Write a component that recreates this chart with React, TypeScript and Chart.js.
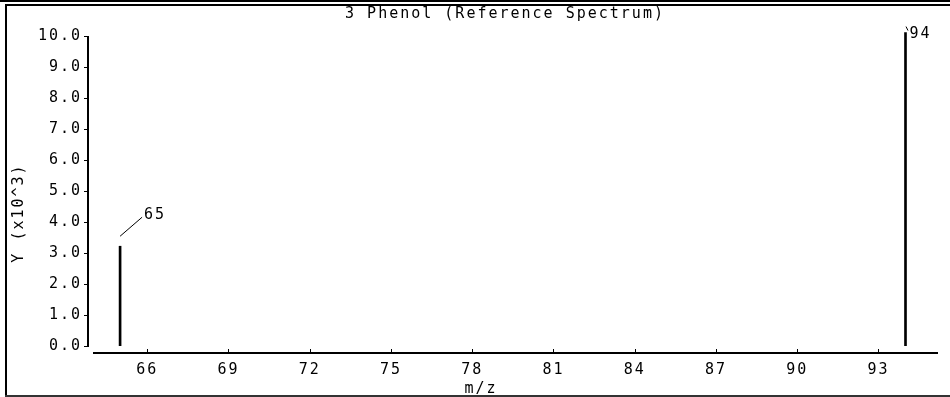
import React, { useEffect, useRef } from "react";
import { Chart, registerables } from "chart.js";

Chart.register(...registerables);

const TITLE = "3 Phenol (Reference Spectrum)";
const X_LABEL = "m/z";
const Y_LABEL = "Y (x10^3)";
const MZ = [65, 94];
const INTENSITY = [3215, 10100];
const PEAK_LABELS = ["65", "94"];
const X_TICKS = [66, 69, 72, 75, 78, 81, 84, 87, 90, 93];
const Y_TICKS = [0, 1, 2, 3, 4, 5, 6, 7, 8, 9, 10];
const X_MIN = 64;
const X_MAX = 95.2;
const Y_MIN = 0;
const Y_MAX = 10.15;

const FONT_FAMILY = "'DejaVu Sans Mono', monospace";
const FONT_SIZE = 15;
const SPACING = "2px";

const framePlugin = {
  id: "frame",
  beforeDraw(chart: any) {
    const ctx = chart.ctx;
    const W = chart.width;
    const H = chart.height;
    ctx.save();
    ctx.fillStyle = "#ffffff";
    ctx.fillRect(0, 0, W, H);
    ctx.fillStyle = "#000000";
    ctx.fillRect(0, 0, W, 2);
    ctx.fillRect(5, 4, W - 5, 2);
    ctx.fillRect(5, 4, 2, H - 4);
    ctx.fillStyle = "#333333";
    ctx.fillRect(5, H - 2, W - 5, 2);
    ctx.restore();
    (ctx as any).letterSpacing = SPACING;
  },
  afterDraw(chart: any) {
    const ctx = chart.ctx;
    const xs = chart.scales.x;
    const ys = chart.scales.y;
    const area = chart.chartArea;
    ctx.save();
    (ctx as any).letterSpacing = SPACING;
    ctx.fillStyle = "#000000";
    // y axis line and ticks
    const y10 = ys.getPixelForValue(Y_TICKS[Y_TICKS.length - 1]);
    const y0 = ys.getPixelForValue(Y_TICKS[0]);
    const axX = area.left - 6;
    ctx.fillRect(axX, Math.round(y10), 2, Math.round(y0 - y10) + 1);
    Y_TICKS.forEach((v) => {
      const py = Math.round(ys.getPixelForValue(v));
      ctx.fillRect(axX - 3, py, 3, 1);
    });
    // x axis line and ticks
    const axY = Math.round(area.bottom) + 6;
    ctx.fillRect(area.left, axY, area.right - area.left, 2);
    X_TICKS.forEach((v) => {
      const px = Math.round(xs.getPixelForValue(v));
      ctx.fillRect(px, axY - 3, 1, 3);
    });
    // texts
    ctx.font = `${FONT_SIZE}px ${FONT_FAMILY}`;
    ctx.textAlign = "center";
    ctx.textBaseline = "middle";
    ctx.fillText(TITLE, 505, 14);
    ctx.fillText(X_LABEL, 481, 389);
    ctx.save();
    ctx.translate(19, 213);
    ctx.rotate(-Math.PI / 2);
    ctx.fillText(Y_LABEL, 0, 0);
    ctx.restore();
    // peak annotations
    const meta = chart.getDatasetMeta(0);
    ctx.strokeStyle = "#000000";
    ctx.lineWidth = 1;
    ctx.textAlign = "left";
    meta.data.forEach((bar: any, i: number) => {
      const x = bar.x;
      const top = bar.y;
      ctx.beginPath();
      if (top - 31 >= area.top) {
        ctx.moveTo(x, top - 10);
        ctx.lineTo(x + 22, top - 29);
        ctx.stroke();
        ctx.fillText(PEAK_LABELS[i], x + 24, top - 31);
      } else {
        ctx.moveTo(x + 0.5, top - 6);
        ctx.lineTo(x + 2.5, top - 2);
        ctx.stroke();
        ctx.fillText(PEAK_LABELS[i], x + 4, top + 2);
      }
    });
    ctx.restore();
    (ctx as any).letterSpacing = "0px";
  },
};

export default function App() {
  const ref = useRef<HTMLCanvasElement | null>(null);
  useEffect(() => {
    const canvas = ref.current;
    if (!canvas) return;
    const chart = new Chart(canvas, {
      type: "bar",
      data: {
        datasets: [
          {
            data: MZ.map((m, i) => ({ x: m, y: INTENSITY[i] / 1000 })),
            backgroundColor: "#000000",
            borderWidth: 0,
            barThickness: 2,
          } as any,
        ],
      },
      options: {
        animation: false,
        responsive: false,
        devicePixelRatio: 1,
        layout: { padding: { top: 31, right: 12, bottom: 0, left: 0 } },
        plugins: {
          legend: { display: false },
          title: { display: false },
          tooltip: { enabled: false },
        },
        scales: {
          x: {
            type: "linear",
            offset: false,
            min: X_MIN,
            max: X_MAX,
            grid: { display: false, offset: false },
            border: { display: false },
            afterBuildTicks: (scale: any) => {
              scale.ticks = X_TICKS.map((v) => ({ value: v }));
            },
            afterFit: (scale: any) => {
              scale.height = 51;
            },
            ticks: {
              autoSkip: false,
              maxRotation: 0,
              padding: 7,
              color: "#000000",
              font: { family: FONT_FAMILY, size: FONT_SIZE },
              callback: (v: any) => String(v),
            },
          },
          y: {
            type: "linear",
            min: Y_MIN,
            max: Y_MAX,
            grid: { display: false },
            border: { display: false },
            afterBuildTicks: (scale: any) => {
              scale.ticks = Y_TICKS.map((v) => ({ value: v }));
            },
            afterFit: (scale: any) => {
              scale.width = 93;
            },
            ticks: {
              autoSkip: false,
              padding: 3,
              color: "#000000",
              font: { family: FONT_FAMILY, size: FONT_SIZE },
              callback: (v: any) => Number(v).toFixed(1),
            },
          },
        },
      },
      plugins: [framePlugin],
    });
    return () => chart.destroy();
  }, []);
  return (
    <div style={{ position: "absolute", left: 0, top: 0, width: 950, height: 397, background: "#fff" }}>
      <canvas ref={ref} width={950} height={397} style={{ display: "block" }} />
    </div>
  );
}
